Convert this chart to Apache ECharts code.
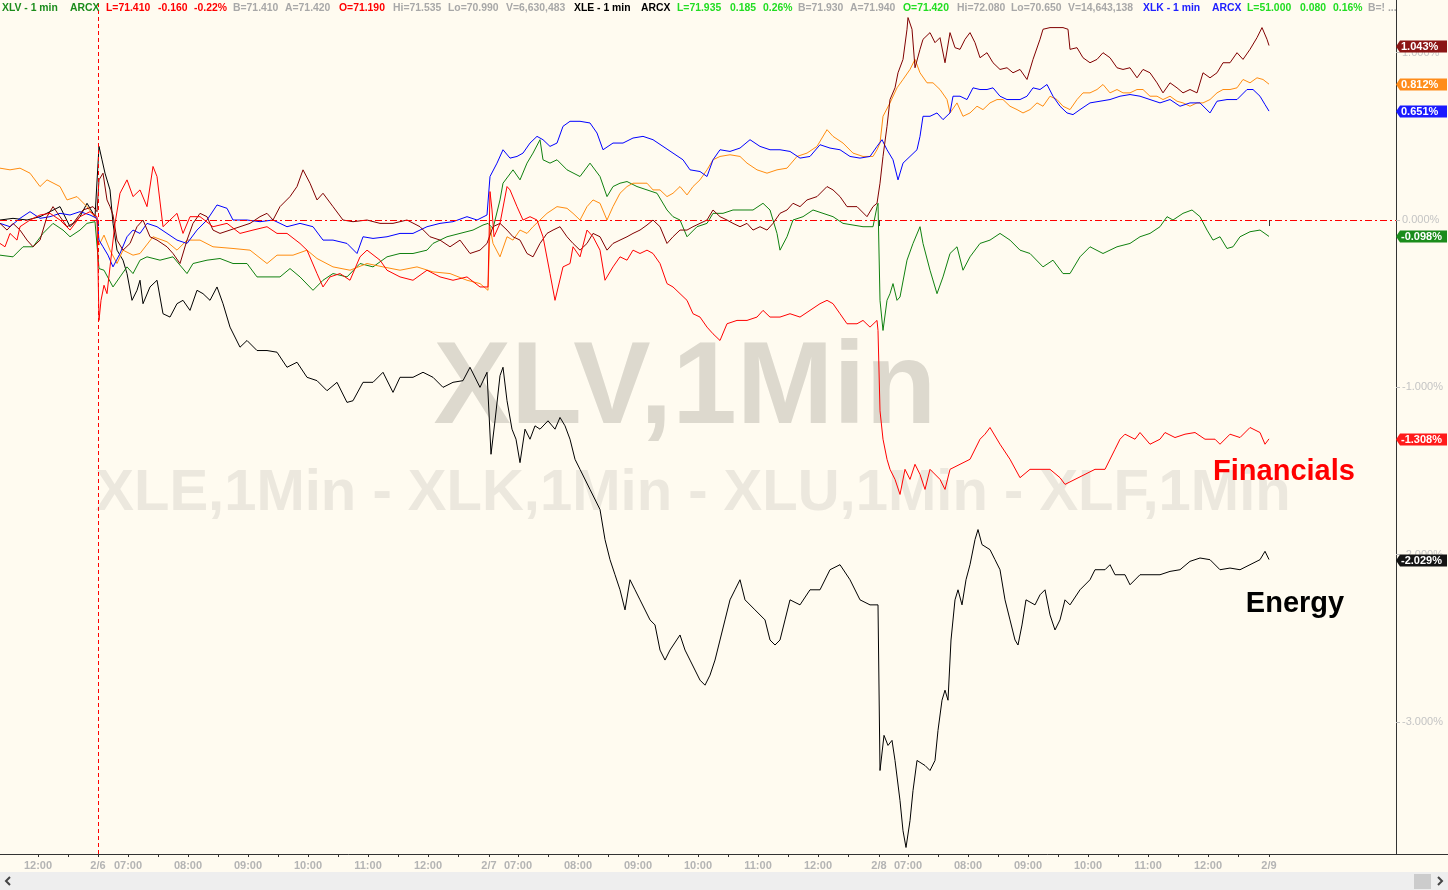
<!DOCTYPE html>
<html><head><meta charset="utf-8">
<script src="https://cdn.jsdelivr.net/npm/echarts@6/dist/echarts.min.js"></script>
<style>html,body{margin:0;padding:0;background:#fffbf0;}#c{width:1448px;height:890px;}</style>
</head><body><div id="c"></div>
<script>
// x = minutes on the intraday time axis (0 = 11:22 of the prior session), y = % change
const xlv = [[0,-0.21],[13,-0.22],[23,-0.16],[33,-0.16],[43,-0.08],[53,-0.02],[63,-0.06],[70,-0.10],[80,-0.06],[87,-0.02],[95,-0.01],[97,-0.01],
[99,-0.29],[104,-0.30],[113,-0.40],[120,-0.34],[127,-0.28],[133,-0.32],[140,-0.24],[147,-0.22],[160,-0.24],[173,-0.22],[187,-0.32],[193,-0.26],[207,-0.24],[220,-0.23],[233,-0.26],[247,-0.26],[257,-0.34],[267,-0.34],[280,-0.34],[290,-0.29],[300,-0.34],[313,-0.42],[323,-0.36],[333,-0.32],[347,-0.34],[360,-0.26],[373,-0.28],[387,-0.22],[400,-0.20],[413,-0.20],[427,-0.18],[433,-0.14],[447,-0.10],[460,-0.08],[473,-0.06],[483,-0.03],[488,-0.02],
[493,-0.05],[500,0.12],[503,0.22],[513,0.30],[520,0.24],[527,0.34],[533,0.40],[540,0.48],[543,0.36],[550,0.34],[557,0.36],[567,0.30],[580,0.26],[590,0.34],[600,0.26],[607,0.14],[613,0.20],[620,0.22],[627,0.23],[637,0.20],[647,0.18],[657,0.16],[667,0.06],[673,0.02],[680,0.00],[687,-0.10],[697,-0.04],[707,-0.02],[713,0.04],[723,0.04],[733,0.06],[743,0.06],[753,0.06],[763,0.10],[770,0.06],[777,-0.08],[780,-0.18],[787,-0.10],[793,0.00],[803,0.02],[813,0.06],[823,0.04],[833,0.02],[843,-0.02],[853,-0.03],[863,-0.04],[873,-0.04],[877,0.08],[878,0.10],
[880,-0.48],[883,-0.66],[887,-0.48],[890,-0.44],[893,-0.38],[897,-0.48],[900,-0.46],[907,-0.24],[913,-0.14],[920,-0.04],[923,-0.14],[930,-0.30],[937,-0.44],[943,-0.34],[950,-0.20],[957,-0.16],[963,-0.30],[970,-0.22],[980,-0.14],[990,-0.12],[1000,-0.08],[1010,-0.12],[1020,-0.18],[1030,-0.20],[1043,-0.28],[1053,-0.24],[1063,-0.32],[1070,-0.32],[1080,-0.22],[1090,-0.16],[1103,-0.20],[1117,-0.16],[1130,-0.14],[1140,-0.10],[1150,-0.08],[1160,-0.04],[1167,0.02],[1173,0.00],[1183,0.04],[1192,0.06],[1200,0.02],[1207,-0.06],[1213,-0.12],[1220,-0.10],[1227,-0.17],[1233,-0.16],[1240,-0.10],[1250,-0.07],[1260,-0.06],[1269,-0.098]];

const xle = [[0,0.00],[13,0.01],[27,0.00],[40,0.02],[50,0.05],[60,0.08],[70,-0.04],[80,0.02],[87,0.10],[95,0.02],[97,0.03],
[99,0.44],[102,0.36],[105,0.28],[110,0.18],[113,-0.02],[117,-0.18],[123,-0.24],[127,-0.32],[132,-0.48],[137,-0.42],[140,-0.36],[143,-0.50],[150,-0.40],[157,-0.36],[163,-0.56],[170,-0.58],[177,-0.50],[183,-0.48],[190,-0.54],[197,-0.42],[203,-0.44],[210,-0.48],[217,-0.40],[223,-0.50],[230,-0.64],[240,-0.76],[247,-0.72],[257,-0.78],[267,-0.78],[277,-0.79],[287,-0.88],[297,-0.85],[307,-0.94],[317,-0.96],[327,-1.02],[337,-0.97],[347,-1.09],[353,-1.08],[363,-0.97],[373,-0.97],[383,-0.91],[393,-1.03],[400,-0.94],[413,-0.94],[423,-0.91],[433,-0.94],[443,-1.00],[453,-0.97],[463,-0.96],[470,-0.88],[480,-1.00],[487,-0.91],[488,-0.90],
[491,-1.40],[495,-1.20],[500,-0.93],[503,-0.88],[507,-1.08],[512,-1.25],[516,-1.31],[520,-1.45],[525,-1.25],[530,-1.31],[535,-1.23],[540,-1.25],[548,-1.20],[555,-1.25],[560,-1.18],[565,-1.23],[570,-1.31],[575,-1.43],[580,-1.49],[590,-1.61],[600,-1.73],[605,-1.91],[610,-2.03],[615,-2.12],[620,-2.21],[625,-2.33],[630,-2.15],[635,-2.21],[640,-2.27],[650,-2.39],[655,-2.42],[660,-2.57],[665,-2.63],[670,-2.57],[680,-2.48],[685,-2.57],[690,-2.63],[700,-2.75],[705,-2.78],[710,-2.72],[715,-2.63],[720,-2.51],[725,-2.39],[730,-2.27],[735,-2.21],[740,-2.15],[745,-2.27],[755,-2.33],[765,-2.39],[770,-2.51],[775,-2.54],[780,-2.51],[785,-2.39],[790,-2.27],[800,-2.30],[810,-2.21],[820,-2.21],[830,-2.09],[840,-2.06],[850,-2.15],[860,-2.27],[870,-2.30],[878,-2.30],
[880,-3.29],[884,-3.08],[888,-3.14],[892,-3.11],[895,-3.23],[900,-3.47],[903,-3.65],[906,-3.75],[910,-3.59],[913,-3.41],[917,-3.23],[925,-3.26],[930,-3.29],[935,-3.23],[938,-3.05],[942,-2.87],[945,-2.81],[948,-2.87],[951,-2.51],[955,-2.27],[958,-2.21],[962,-2.30],[966,-2.15],[970,-2.06],[975,-1.91],[978,-1.85],[982,-1.94],[990,-1.97],[995,-2.03],[1000,-2.09],[1005,-2.27],[1010,-2.39],[1015,-2.51],[1018,-2.54],[1022,-2.42],[1026,-2.27],[1035,-2.30],[1040,-2.24],[1045,-2.21],[1050,-2.36],[1055,-2.45],[1060,-2.39],[1065,-2.27],[1070,-2.30],[1080,-2.21],[1090,-2.15],[1095,-2.09],[1105,-2.09],[1110,-2.06],[1115,-2.12],[1125,-2.12],[1130,-2.18],[1140,-2.12],[1150,-2.12],[1160,-2.12],[1170,-2.10],[1180,-2.09],[1190,-2.04],[1200,-2.02],[1210,-2.03],[1220,-2.09],[1230,-2.08],[1240,-2.09],[1250,-2.06],[1260,-2.03],[1265,-1.98],[1269,-2.029]];

const xlk = [[0,-0.02],[10,-0.04],[20,0.01],[30,0.05],[40,0.01],[50,0.02],[60,0.04],[70,0.03],[80,0.05],[90,0.03],[97,0.01],
[99,-0.12],[103,-0.16],[108,-0.21],[113,-0.28],[120,-0.20],[127,-0.10],[133,-0.06],[140,-0.08],[147,-0.02],[157,-0.04],[167,-0.08],[177,-0.12],[187,-0.14],[197,-0.06],[207,0.00],[217,0.09],[227,0.07],[233,0.00],[247,0.00],[260,-0.01],[273,0.00],[287,-0.04],[300,-0.02],[313,-0.04],[323,-0.12],[333,-0.12],[347,-0.14],[357,-0.20],[363,-0.10],[373,-0.11],[387,-0.10],[400,-0.08],[413,-0.08],[427,-0.04],[440,-0.02],[453,-0.01],[467,0.02],[477,0.00],[487,0.03],
[490,0.26],[497,0.34],[503,0.42],[510,0.37],[517,0.38],[523,0.40],[530,0.46],[537,0.50],[543,0.48],[550,0.44],[557,0.46],[563,0.56],[570,0.59],[580,0.59],[590,0.58],[597,0.52],[603,0.42],[613,0.46],[623,0.46],[633,0.49],[643,0.50],[653,0.48],[663,0.44],[673,0.40],[683,0.36],[690,0.30],[700,0.29],[707,0.26],[713,0.36],[720,0.42],[730,0.41],[740,0.43],[750,0.48],[760,0.44],[770,0.42],[780,0.42],[790,0.41],[800,0.37],[810,0.38],[820,0.45],[830,0.43],[840,0.42],[850,0.38],[860,0.37],[870,0.38],[877,0.44],
[882,0.48],[887,0.42],[893,0.36],[898,0.24],[903,0.34],[910,0.38],[917,0.42],[920,0.50],[923,0.62],[930,0.62],[937,0.64],[943,0.60],[950,0.64],[953,0.74],[960,0.74],[967,0.72],[973,0.79],[980,0.78],[987,0.78],[993,0.79],[1000,0.74],[1007,0.72],[1020,0.72],[1027,0.74],[1033,0.79],[1040,0.78],[1047,0.81],[1053,0.74],[1060,0.68],[1067,0.64],[1073,0.63],[1080,0.66],[1090,0.70],[1100,0.71],[1110,0.72],[1120,0.74],[1130,0.75],[1140,0.74],[1150,0.72],[1160,0.70],[1170,0.72],[1180,0.68],[1190,0.70],[1200,0.70],[1210,0.64],[1217,0.71],[1227,0.72],[1237,0.72],[1247,0.78],[1253,0.78],[1260,0.74],[1265,0.69],[1269,0.651]];

const xlu = [[0,0.31],[10,0.30],[20,0.31],[30,0.28],[40,0.20],[47,0.24],[60,0.20],[67,0.12],[77,0.14],[87,0.08],[97,0.00],
[99,-0.15],[104,-0.09],[110,-0.18],[117,-0.26],[123,-0.18],[133,-0.21],[140,-0.20],[153,-0.10],[167,-0.13],[177,-0.18],[187,-0.12],[200,-0.12],[213,-0.16],[233,-0.17],[250,-0.18],[267,-0.26],[277,-0.21],[293,-0.21],[307,-0.18],[317,-0.23],[333,-0.28],[350,-0.30],[367,-0.26],[383,-0.28],[400,-0.30],[417,-0.28],[433,-0.31],[450,-0.32],[467,-0.36],[480,-0.38],[488,-0.42],
[490,-0.04],[493,-0.14],[500,-0.22],[507,-0.10],[513,-0.12],[520,-0.06],[527,-0.08],[533,-0.04],[540,0.00],[547,0.04],[557,0.08],[567,0.07],[573,0.04],[580,0.00],[587,0.08],[593,0.12],[600,0.10],[607,0.00],[613,0.08],[620,0.16],[627,0.20],[633,0.22],[647,0.22],[653,0.18],[660,0.18],[667,0.14],[673,0.16],[680,0.20],[687,0.15],[693,0.20],[700,0.24],[707,0.30],[713,0.36],[720,0.38],[730,0.39],[740,0.38],[747,0.34],[757,0.30],[767,0.28],[777,0.30],[787,0.31],[797,0.38],[807,0.40],[817,0.44],[827,0.54],[833,0.50],[843,0.46],[853,0.40],[863,0.38],[873,0.38],[877,0.42],
[880,0.46],[883,0.62],[890,0.70],[897,0.79],[903,0.84],[910,0.90],[915,0.96],[920,0.88],[927,0.82],[933,0.82],[940,0.78],[947,0.72],[950,0.64],[957,0.70],[963,0.62],[970,0.64],[977,0.68],[983,0.66],[990,0.70],[997,0.72],[1003,0.72],[1010,0.68],[1017,0.66],[1023,0.64],[1030,0.66],[1037,0.70],[1043,0.68],[1050,0.74],[1057,0.72],[1063,0.68],[1070,0.66],[1077,0.72],[1083,0.76],[1090,0.76],[1097,0.78],[1103,0.81],[1110,0.76],[1117,0.78],[1123,0.76],[1130,0.76],[1137,0.78],[1143,0.78],[1150,0.74],[1157,0.74],[1163,0.72],[1170,0.74],[1177,0.71],[1183,0.70],[1190,0.68],[1197,0.70],[1203,0.70],[1210,0.72],[1217,0.76],[1223,0.78],[1230,0.78],[1237,0.79],[1243,0.84],[1250,0.82],[1257,0.85],[1263,0.84],[1269,0.812]];

const xlf = [[0,-0.14],[5,-0.16],[10,-0.08],[17,-0.12],[20,-0.04],[30,0.00],[40,0.03],[50,0.04],[60,0.00],[70,-0.06],[80,0.02],[90,0.05],[97,0.02],
[99,-0.60],[101,-0.48],[104,-0.39],[107,-0.44],[110,-0.28],[115,-0.02],[120,0.16],[127,0.24],[133,0.14],[140,0.18],[147,0.08],[153,0.32],[157,0.26],[163,-0.04],[170,0.00],[177,0.04],[183,-0.08],[190,0.02],[200,0.02],[213,-0.04],[227,-0.02],[240,-0.08],[253,-0.06],[267,-0.04],[277,-0.08],[287,-0.08],[300,-0.14],[307,-0.18],[317,-0.32],[323,-0.40],[330,-0.34],[340,-0.32],[350,-0.36],[360,-0.22],[367,-0.18],[380,-0.24],[387,-0.30],[400,-0.34],[413,-0.36],[427,-0.30],[440,-0.34],[453,-0.36],[467,-0.34],[480,-0.40],[488,-0.40],
[490,0.17],[492,0.06],[494,-0.10],[500,-0.02],[507,0.20],[510,0.18],[517,0.08],[523,0.00],[530,0.02],[537,0.00],[543,-0.10],[550,-0.32],[555,-0.48],[563,-0.28],[570,-0.26],[573,-0.16],[580,-0.22],[587,-0.06],[593,-0.10],[600,-0.18],[605,-0.36],[613,-0.28],[620,-0.22],[627,-0.24],[633,-0.18],[640,-0.20],[647,-0.18],[653,-0.20],[660,-0.26],[667,-0.38],[673,-0.40],[680,-0.44],[687,-0.48],[693,-0.56],[700,-0.58],[707,-0.64],[713,-0.68],[720,-0.72],[727,-0.62],[737,-0.60],[747,-0.60],[757,-0.58],[763,-0.54],[770,-0.58],[780,-0.58],[790,-0.56],[800,-0.58],[810,-0.54],[820,-0.50],[827,-0.48],[833,-0.50],[840,-0.56],[847,-0.62],[857,-0.62],[863,-0.60],[870,-0.64],[877,-0.60],[878,-0.66],
[880,-1.14],[883,-1.31],[887,-1.43],[890,-1.49],[895,-1.55],[900,-1.64],[905,-1.49],[910,-1.55],[915,-1.46],[920,-1.52],[925,-1.61],[930,-1.49],[940,-1.55],[945,-1.61],[950,-1.49],[960,-1.46],[970,-1.43],[980,-1.31],[985,-1.28],[990,-1.24],[1000,-1.34],[1010,-1.43],[1020,-1.54],[1030,-1.49],[1040,-1.49],[1050,-1.49],[1060,-1.54],[1065,-1.58],[1075,-1.55],[1085,-1.52],[1095,-1.49],[1105,-1.49],[1115,-1.37],[1120,-1.31],[1125,-1.28],[1135,-1.31],[1140,-1.27],[1150,-1.34],[1160,-1.31],[1165,-1.27],[1175,-1.30],[1185,-1.28],[1195,-1.27],[1205,-1.31],[1215,-1.31],[1220,-1.34],[1230,-1.28],[1240,-1.30],[1250,-1.24],[1260,-1.27],[1265,-1.34],[1269,-1.308]];

const other = [[0,-0.02],[7,-0.06],[13,-0.02],[20,-0.06],[27,-0.12],[33,-0.16],[40,-0.12],[47,0.02],[53,0.08],[60,0.02],[67,-0.04],[73,-0.02],[83,0.06],[93,0.08],[97,0.05],
[99,0.24],[103,0.28],[107,0.12],[110,0.08],[113,0.03],[117,-0.12],[123,-0.18],[130,-0.14],[137,-0.04],[143,0.00],[150,-0.10],[157,-0.12],[167,-0.16],[173,-0.20],[180,-0.26],[187,-0.12],[193,-0.02],[200,0.04],[207,0.02],[213,-0.06],[220,-0.08],[230,-0.06],[240,-0.04],[250,-0.02],[260,0.02],[267,0.04],[273,0.00],[280,0.08],[290,0.14],[297,0.20],[303,0.30],[310,0.22],[317,0.12],[323,0.16],[333,0.08],[343,0.00],[353,-0.01],[367,0.00],[380,-0.02],[393,-0.02],[407,0.00],[420,-0.04],[430,-0.10],[440,-0.12],[450,-0.16],[460,-0.12],[470,-0.20],[480,-0.18],[487,-0.14],
[493,-0.04],[500,-0.02],[507,-0.06],[513,-0.10],[520,-0.12],[527,-0.20],[533,-0.22],[540,-0.14],[547,-0.08],[553,-0.06],[560,-0.04],[567,-0.10],[573,-0.14],[580,-0.18],[587,-0.14],[593,-0.08],[600,-0.10],[607,-0.18],[613,-0.14],[620,-0.12],[627,-0.10],[633,-0.08],[640,-0.06],[647,-0.03],[653,0.00],[660,-0.04],[667,-0.14],[673,-0.10],[680,-0.06],[687,-0.06],[693,-0.04],[700,-0.02],[707,0.00],[713,0.06],[720,0.02],[727,0.00],[733,-0.02],[740,-0.04],[747,-0.02],[753,-0.06],[760,-0.04],[767,-0.06],[773,-0.02],[780,0.04],[787,0.06],[793,0.10],[800,0.08],[807,0.12],[817,0.14],[827,0.20],[833,0.18],[840,0.14],[847,0.08],[857,0.08],[867,0.02],[873,0.08],[877,0.10],
[880,0.22],[883,0.38],[887,0.56],[890,0.72],[895,0.79],[898,0.88],[903,0.96],[907,1.14],[908,1.21],[912,1.14],[915,0.91],[920,1.02],[923,1.08],[930,1.12],[935,1.06],[940,1.09],[945,0.94],[950,1.12],[955,1.03],[960,1.02],[965,1.08],[970,1.12],[975,1.06],[980,0.97],[987,1.00],[993,0.94],[1000,0.90],[1007,0.91],[1013,0.88],[1020,0.90],[1027,0.84],[1033,0.96],[1040,1.08],[1043,1.14],[1050,1.15],[1057,1.15],[1063,1.15],[1068,1.14],[1070,1.02],[1077,1.03],[1083,0.97],[1090,0.94],[1097,0.96],[1103,1.00],[1110,0.97],[1117,0.91],[1123,0.90],[1130,0.91],[1137,0.85],[1143,0.90],[1150,0.88],[1157,0.82],[1163,0.76],[1170,0.82],[1177,0.79],[1183,0.76],[1190,0.78],[1197,0.76],[1203,0.88],[1210,0.85],[1217,0.88],[1223,0.94],[1230,0.94],[1237,1.00],[1243,0.96],[1250,1.02],[1257,1.09],[1262,1.15],[1267,1.08],[1269,1.043]];

// time-axis labels (minute positions) and tick marks
const tickPos  = [38,98,128,188,248,308,368,428,489,518,578,638,698,758,818,879,908,968,1028,1088,1148,1208,1269];
const tickText = ['12:00','2/6','07:00','08:00','09:00','10:00','11:00','12:00','2/7','07:00','08:00','09:00','10:00','11:00','12:00','2/8','07:00','08:00','09:00','10:00','11:00','12:00','2/9'];
const halfHourTicks = [38,68,98,128,158,188,218,248,278,308,338,368,398,428,458,489,518,548,578,608,638,668,698,728,758,788,818,848,879,908,938,968,998,1028,1058,1088,1118,1148,1178,1208,1238,1269];
const sessionStarts = [98,489,879,1269];
const firstOpen = 98;
const yTicks = [-3,-2,-1,0,1];

const seriesDefs = [
  {name:'XLE', data:xle, color:'#000000', flag:'#141414'},
  {name:'XLV', data:xlv, color:'#108010', flag:'#1b8c1b'},
  {name:'XLU', data:xlu, color:'#ff8c10', flag:'#ff8c1a'},
  {name:'XLK', data:xlk, color:'#0000ff', flag:'#1a1aff'},
  {name:'Other', data:other, color:'#800000', flag:'#8b1515'},
  {name:'XLF', data:xlf, color:'#ff0000', flag:'#ff1a1a'}
];

const BG = '#fffbf0';
const chart = echarts.init(document.getElementById('c'), null, {renderer:'canvas'});

const header = [
  [2,'XLV - 1 min','#1c8c1c'],[70,'ARCX','#1c8c1c'],[106,'L=71.410','#ff0000'],[158,'-0.160','#ff0000'],[194,'-0.22%','#ff0000'],
  [233,'B=71.410','#a8a8a8'],[285,'A=71.420','#a8a8a8'],[339,'O=71.190','#ff0000'],[393,'Hi=71.535','#a8a8a8'],[448,'Lo=70.990','#a8a8a8'],
  [506,'V=6,630,483','#a8a8a8'],[574,'XLE - 1 min','#000000'],[641,'ARCX','#000000'],[677,'L=71.935','#22dd22'],[730,'0.185','#22dd22'],
  [763,'0.26%','#22dd22'],[798,'B=71.930','#a8a8a8'],[850,'A=71.940','#a8a8a8'],[903,'O=71.420','#22dd22'],[957,'Hi=72.080','#a8a8a8'],
  [1011,'Lo=70.650','#a8a8a8'],[1068,'V=14,643,138','#a8a8a8'],[1143,'XLK - 1 min','#2020ff'],[1212,'ARCX','#2020ff'],[1247,'L=51.000','#22dd22'],
  [1300,'0.080','#22dd22'],[1333,'0.16%','#22dd22'],[1368,'B=! ...','#a8a8a8']
];

const graphics = [];
graphics.push({id:'wm1', type:'text', z:0, x:685, y:391, silent:true,
  style:{text:'XLV,1Min', fill:'#ddd9ce', font:'bold 116px "Liberation Sans", Arial', textAlign:'center', textVerticalAlign:'middle', align:'center', verticalAlign:'middle'}});
graphics.push({id:'wm2', type:'text', z:0, x:693, y:494, silent:true,
  style:{text:'XLE,1Min - XLK,1Min - XLU,1Min - XLF,1Min', fill:'#ece8de', font:'bold 58px "Liberation Sans", Arial', textAlign:'center', textVerticalAlign:'middle', align:'center', verticalAlign:'middle'}});
header.forEach((h,i)=>graphics.push({id:'h'+i, type:'text', z:20, x:h[0], y:8, silent:true,
  style:{text:h[1], fill:h[2], font:'bold 10.4px "Liberation Sans", Arial', textVerticalAlign:'middle', verticalAlign:'middle'}}));
graphics.push({id:'finLbl', type:'text', z:20, x:1284, y:472, silent:true,
  style:{text:'Financials', fill:'#ff0000', font:'bold 29px "Liberation Sans", Arial', textAlign:'center', textVerticalAlign:'middle', align:'center', verticalAlign:'middle'}});
graphics.push({id:'engLbl', type:'text', z:20, x:1295, y:604, silent:true,
  style:{text:'Energy', fill:'#000000', font:'bold 29px "Liberation Sans", Arial', textAlign:'center', textVerticalAlign:'middle', align:'center', verticalAlign:'middle'}});
// scrollbar strip
graphics.push({id:'sb', type:'rect', z:5, silent:true, shape:{x:0,y:872,width:1448,height:18}, style:{fill:'#eeeeee'}});
graphics.push({id:'sbThumb', type:'rect', z:6, silent:true, shape:{x:1414,y:874,width:17,height:15}, style:{fill:'#cccccc'}});
graphics.push({id:'sbL', type:'polyline', z:6, silent:true, shape:{points:[[10,877],[6,881],[10,885]]}, style:{stroke:'#444', lineWidth:2, fill:null}});
graphics.push({id:'sbR', type:'polyline', z:6, silent:true, shape:{points:[[1438,877],[1442,881],[1438,885]]}, style:{stroke:'#444', lineWidth:2, fill:null}});
graphics.push({id:'axExt', type:'line', z:6, silent:true, shape:{x1:1396,y1:854.5,x2:1448,y2:854.5}, style:{stroke:'#333', lineWidth:1}});

const option = {
  backgroundColor: BG,
  animation: false,
  grid: {left:0, right:52, top:0, bottom:36, containLabel:false},
  xAxis: [
    {type:'value', min:0, max:1396, position:'bottom',
     axisLine:{show:true, onZero:false, lineStyle:{color:'#333', width:1}},
     axisTick:{show:true, customValues:halfHourTicks, length:3, lineStyle:{color:'#333'}},
     axisLabel:{show:true, customValues:tickPos, margin:6, color:'#b4b4b4', fontSize:11, fontWeight:'bold', fontFamily:'"Liberation Sans", Arial',
       formatter:(v)=>{const i=tickPos.indexOf(Math.round(v)); return i>=0?tickText[i]:'';}},
     splitLine:{show:false}},
    {type:'value', min:0, max:1396, position:'bottom',
     axisLine:{show:false}, axisLabel:{show:false}, splitLine:{show:false},
     axisTick:{show:true, customValues:sessionStarts, length:6, lineStyle:{color:'#333'}}}
  ],
  yAxis: {type:'value', position:'right', min:-3.789, max:1.315,
    axisLine:{show:true, onZero:false, lineStyle:{color:'#333', width:1}},
    axisTick:{show:true, customValues:yTicks, length:4, lineStyle:{color:'#bdbdbd'}},
    axisLabel:{show:true, customValues:yTicks, margin:6, color:'#c4c4c4', fontSize:11, fontFamily:'"Liberation Sans", Arial',
      formatter:(v)=>v.toFixed(3)+'%'},
    splitLine:{show:false}},
  series: seriesDefs.map((s,i)=>({
    name:s.name, type:'line', data:s.data, showSymbol:false, symbol:'none',
    lineStyle:{color:s.color, width:1}, itemStyle:{color:s.color}, z:2+i*0.01, silent:true,
    markLine: i===0 ? {silent:true, symbol:['none','none'], label:{show:false},
      data:[
        {yAxis:0, lineStyle:{color:'#ff0000', width:1, type:[7,3,2,3]}},
        {xAxis:firstOpen, lineStyle:{color:'#ff0000', width:1, type:[4,3]}}
      ]} : undefined
  })),
  graphic: {elements: graphics}
};
chart.setOption(option);

// value flags on the right axis, positioned through the axis scale
const flagEls = [];
const edgeX = chart.convertToPixel({xAxisIndex:0}, 1396);
seriesDefs.forEach((s,i)=>{
  const last = s.data[s.data.length-1][1];
  const py = Math.round(chart.convertToPixel({yAxisIndex:0}, last)) + 0.5;
  flagEls.push({id:'flag'+i, type:'polygon', z:30, silent:true,
    shape:{points:[[edgeX,py],[edgeX+4,py-6],[edgeX+51,py-6],[edgeX+51,py+6],[edgeX+4,py+6]]}, style:{fill:s.flag}});
  flagEls.push({id:'flagT'+i, type:'text', z:31, silent:true, x:edgeX+5, y:py,
    style:{text:last.toFixed(3)+'%', fill:'#ffffff', font:'bold 11px "Liberation Sans", Arial', textVerticalAlign:'middle', verticalAlign:'middle'}});
});
chart.setOption({graphic:{elements:flagEls}});
</script></body></html>
